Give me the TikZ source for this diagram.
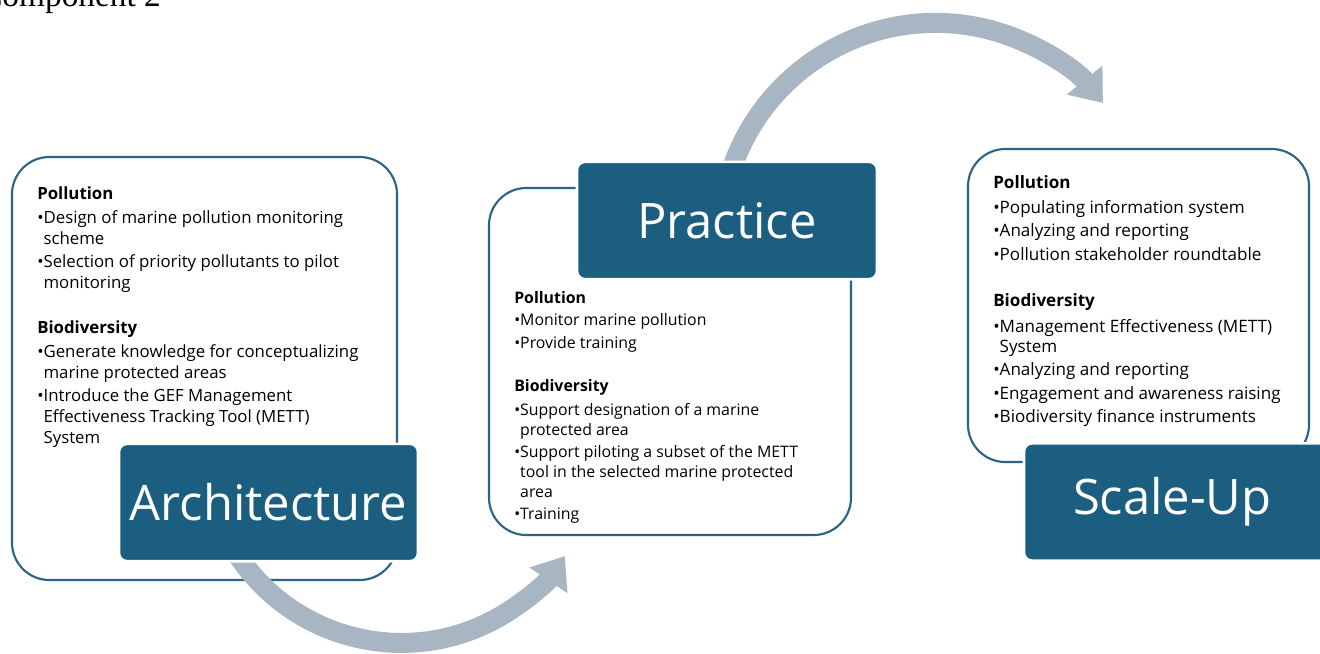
\documentclass[tikz,border=0pt]{standalone}
\usepackage{fontspec}
\setmainfont{Open Sans}
\newfontfamily\capfont{Liberation Serif}
\usetikzlibrary{arrows.meta}
\definecolor{stageblue}{HTML}{1B5E80}
\definecolor{rimblue}{HTML}{2B6485}
\definecolor{loopgray}{HTML}{A8B5C2}
\newcommand{\ind}{\hphantom{\textbullet}}

\begin{document}
\begin{tikzpicture}[x=0.75pt, y=-0.75pt]
        \tikzset{rim/.style = {draw=rimblue, line width=1.6pt, rounded corners=28pt, inner sep=0pt}}
        \tikzset{stage/.style = {fill=stageblue, draw=white, line width=2pt, rounded corners=6pt, text=white, font=\fontsize{36.7}{42}\selectfont, minimum height=88pt, inner sep=0pt}}
        \tikzset{loop/.style = {draw=loopgray, line width=15pt, -{Triangle[width=33pt, length=22pt]}}}
        \tikzset{notes/.style = {anchor=north west, align=left, inner sep=0pt}}

        \useasboundingbox (0,0) rectangle (1320,653);

        \node[anchor=base west, inner sep=0pt, font=\capfont\fontsize{25}{30}\selectfont] (title) at (-20,7) {Component 2};

        % outlined boxes
        \node[rim, minimum width=288.75pt, minimum height=317.25pt] (archrim) at (204.5,368.5) {};
        \node[rim, minimum width=271.5pt, minimum height=260.25pt] (pracrim) at (670,361.5) {};
        \node[rim, minimum width=255.75pt, minimum height=234.75pt] (scalerim) at (1138.5,305.5) {};

        % cycle arrows
        \coordinate (loopa) at (230.9,544.4);
        \draw[loop] (loopa) arc[start angle=210, end angle=326, radius=147.75pt];
        \coordinate (loopb) at (730.8,171.6);
        \draw[loop] (loopb) arc[start angle=162, end angle=38.9, radius=161.4pt];

        % stage boxes
        \node[stage, minimum width=224.25pt] (arch) at (268.5,502.5) {Architecture};
        \node[stage, minimum width=225pt] (prac) at (727,220.5) {Practice};
        \node[stage, minimum width=229.5pt, text width=222pt, align=left] (scale) at (1177,502) {\hspace{33pt}Scale-Up};

        % notes
        \node[notes, font=\fontsize{12.6}{15.75}\selectfont] (archnotes) at (37,186) {%
            \textbf{Pollution}\\[2.25pt]
            \textbullet Design of marine pollution monitoring\\
            \ind scheme\\[1.5pt]
            \textbullet Selection of priority pollutants to pilot\\
            \ind monitoring\\[18.5pt]
            \textbf{Biodiversity}\\[2.25pt]
            \textbullet Generate knowledge for conceptualizing\\
            \ind marine protected areas\\[1.5pt]
            \textbullet Introduce the GEF Management\\
            \ind Effectiveness Tracking Tool (METT)\\
            \ind System};
        \node[notes, font=\fontsize{11.9}{14.8}\selectfont] (pracnotes) at (514,291) {%
            \textbf{Pollution}\\[2pt]
            \textbullet Monitor marine pollution\\[2pt]
            \textbullet Provide training\\[18pt]
            \textbf{Biodiversity}\\[3pt]
            \textbullet Support designation of a marine\\
            \ind protected area\\[2pt]
            \textbullet Support piloting a subset of the METT\\
            \ind tool in the selected marine protected\\
            \ind area\\[2pt]
            \textbullet Training};
        \node[notes, font=\fontsize{12.8}{15.2}\selectfont] (scalenotes) at (993,175) {%
            \textbf{Pollution}\\[3.75pt]
            \textbullet Populating information system\\[2.25pt]
            \textbullet Analyzing and reporting\\[2.25pt]
            \textbullet Pollution stakeholder roundtable\\[20pt]
            \textbf{Biodiversity}\\[3.75pt]
            \textbullet Management Effectiveness (METT)\\
            \ind System\\[2.25pt]
            \textbullet Analyzing and reporting\\[2.25pt]
            \textbullet Engagement and awareness raising\\[2.25pt]
            \textbullet Biodiversity finance instruments};
\end{tikzpicture}
\end{document}
